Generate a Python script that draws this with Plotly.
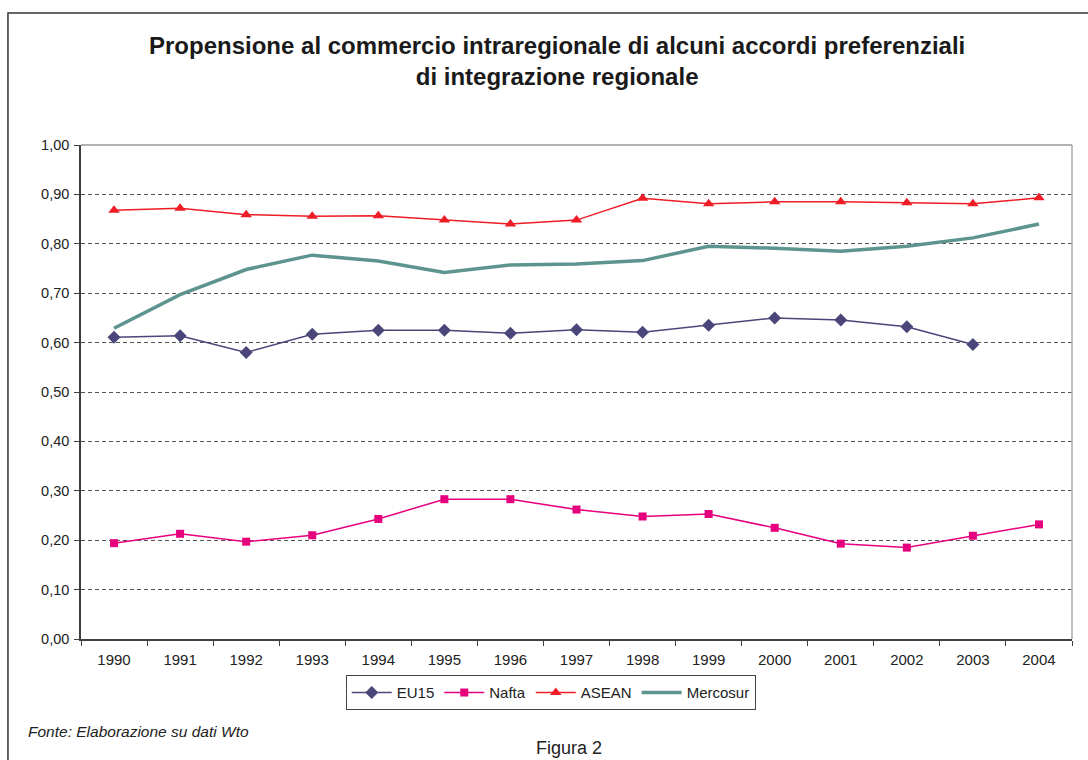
import plotly.graph_objects as go

years = ["1990", "1991", "1992", "1993", "1994", "1995", "1996", "1997",
         "1998", "1999", "2000", "2001", "2002", "2003", "2004"]
eu15 = [0.611, 0.614, 0.580, 0.617, 0.625, 0.625, 0.619, 0.626, 0.621,
        0.635, 0.650, 0.646, 0.632, 0.596, None]
nafta = [0.194, 0.213, 0.197, 0.210, 0.243, 0.283, 0.283, 0.262, 0.248,
         0.253, 0.225, 0.193, 0.185, 0.209, 0.232]
asean = [0.868, 0.872, 0.859, 0.856, 0.857, 0.848, 0.840, 0.848, 0.892,
         0.881, 0.885, 0.885, 0.883, 0.881, 0.893]
mercosur = [0.629, 0.697, 0.748, 0.777, 0.765, 0.742, 0.757, 0.759, 0.766,
            0.795, 0.791, 0.785, 0.795, 0.812, 0.840]
y_ticks = [0, 0.1, 0.2, 0.3, 0.4, 0.5, 0.6, 0.7, 0.8, 0.9, 1.0]

FONT = "Liberation Sans, Arial, sans-serif"

fig = go.Figure()
fig.add_trace(go.Scatter(x=years, y=eu15, name="EU15", mode="lines+markers",
                         line=dict(color="#4B4679", width=1.5),
                         marker=dict(symbol="diamond", size=10, color="#4B4679")))
fig.add_trace(go.Scatter(x=years, y=nafta, name="Nafta", mode="lines+markers",
                         line=dict(color="#E6007E", width=1.5),
                         marker=dict(symbol="square", size=8, color="#E6007E")))
fig.add_trace(go.Scatter(x=years, y=asean, name="ASEAN", mode="lines+markers",
                         line=dict(color="#EE1C25", width=1.5),
                         marker=dict(symbol="triangle-up", size=10, color="#EE1C25")))
fig.add_trace(go.Scatter(x=years, y=mercosur, name="Mercosur", mode="lines",
                         line=dict(color="#5E9490", width=3.5)))

fig.update_layout(
    width=1088, height=760,
    margin=dict(l=81, r=16, t=145, b=121),
    paper_bgcolor="white", plot_bgcolor="white",
    separators=",.",
    font=dict(family=FONT, size=15, color="#222222"),
    showlegend=True,
    legend=dict(orientation="h", x=0.474, y=-0.109, xanchor="center", yanchor="middle",
                bordercolor="#444444", borderwidth=1, bgcolor="white",
                font=dict(size=15, color="#222222"), itemwidth=40),
    xaxis=dict(type="category", range=[-0.5, len(years) - 0.5], showline=True,
               linecolor="#404040", linewidth=1.5,
               ticks="outside", tickson="boundaries", ticklen=5, tickcolor="#404040",
               showgrid=False, tickfont=dict(size=15), ticklabelstandoff=6),
    yaxis=dict(range=[0, 1], tickvals=y_ticks, tickformat=".2f", showline=True,
               linecolor="#404040", linewidth=1.5, ticks="outside", ticklen=5,
               tickcolor="#404040", showgrid=True, gridcolor="#555555", gridwidth=1,
               griddash="4px,3px", zeroline=False, tickfont=dict(size=14.5),
               ticklabelstandoff=2),
)

# plot area top/right border (light grey)
fig.add_shape(type="line", xref="paper", yref="paper", x0=0, x1=1, y0=1, y1=1,
              line=dict(color="#999999", width=1.5))
fig.add_shape(type="line", xref="paper", yref="paper", x0=1, x1=1, y0=0, y1=1,
              line=dict(color="#AAAAAA", width=1.5))
# outer frame
fig.add_shape(type="rect", xref="paper", yref="paper", x0=-0.0737, x1=1.2, y0=-0.5, y1=1.267,
              line=dict(color="#333333", width=1.5), layer="below")

fig.add_annotation(xref="paper", yref="paper", x=0.480, y=1.170, xanchor="center", yanchor="middle",
                   showarrow=False, align="center",
                   text="<b>Propensione al commercio intraregionale di alcuni accordi preferenziali<br>di integrazione regionale</b>",
                   font=dict(family=FONT, size=24, color="#1a1a1a"))
fig.add_annotation(xref="paper", yref="paper", x=-0.0555, y=-0.188, xanchor="left", yanchor="middle",
                   showarrow=False, text="<i>Fonte: Elaborazione su dati Wto</i>",
                   font=dict(family=FONT, size=15.5, color="#222222"))
fig.add_annotation(xref="paper", yref="paper", x=0.4925, y=-0.2206, xanchor="center", yanchor="middle",
                   showarrow=False, text="Figura 2",
                   font=dict(family=FONT, size=18, color="#222222"))

fig.write_html("out.html", config={"displayModeBar": False},
               post_script="document.body.style.margin='0';")
